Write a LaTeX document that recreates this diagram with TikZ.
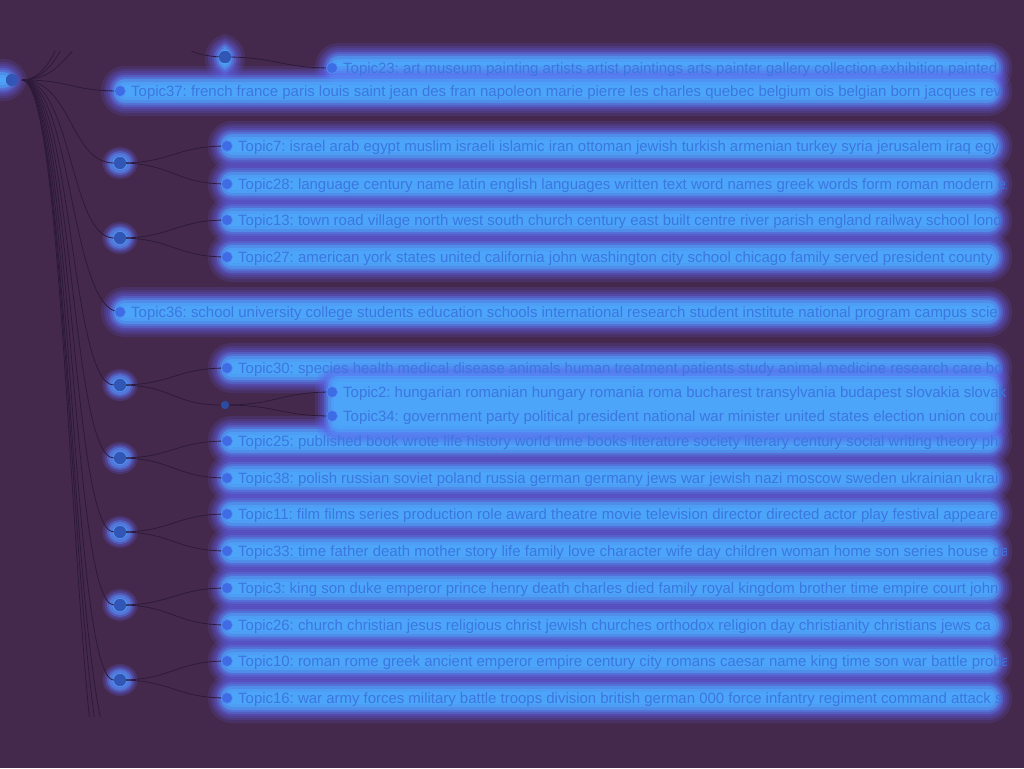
\documentclass[tikz,border=0pt]{standalone}
\usepackage{fontspec}
\setmainfont{Liberation Sans}
\definecolor{bg}{RGB}{69,41,77}
\definecolor{gA}{RGB}{96,96,232}
\definecolor{gB}{RGB}{84,142,248}
\definecolor{gC}{RGB}{76,170,252}
\definecolor{txt}{RGB}{60,118,224}
\definecolor{lnk}{RGB}{45,26,58}
\definecolor{dotc}{RGB}{62,108,228}
\newcommand\gbox[4]{\foreach \d/\c/\o [evaluate=\d as \rr using {max(2,11+\d)}] in {13/gA/0.16,10/gA/0.18,8/gA/0.2,6/gA/0.25,4/gB/0.3,2/gB/0.4,0/gC/0.5,-3/gC/0.6,-6/gC/0.6}{\fill[\c,opacity=\o,rounded corners=\rr pt] ({#1-\d},{#2-\d}) rectangle ({#3+\d},{#4+\d});}}
\newcommand\gdot[2]{\foreach \r/\c/\o in {16/gA/0.2,14/gA/0.3,12/gB/0.4,10/gB/0.5,7/gC/0.5}{\fill[\c,opacity=\o] (#1,#2) ellipse ({\r*1.1pt} and {\r pt});}}
\tikzset{
  lbl/.style={anchor=base west, inner sep=0pt, text=txt, font=\fontsize{14.95}{18}\selectfont},
  leaf/.style={circle, inner sep=0pt, minimum size=11pt, fill=dotc, draw=gB, line width=0.6pt},
  inode/.style={circle, inner sep=0pt, minimum size=12pt, fill=dotc!80!black},
  smallnode/.style={circle, inner sep=0pt, minimum size=8pt, fill=dotc!70!black},
  link/.style={draw=lnk, line width=0.8pt},
}
\begin{document}
\frenchspacing
\begin{tikzpicture}[x=1pt,y=-1pt]
\useasboundingbox (0,0) rectangle (1024,768);
\clip (0,0) rectangle (1024,768);
\fill[bg] (0,0) rectangle (1024,768);
% glows
\gbox{-20}{72}{14}{88}
\gbox{218}{47}{232}{70}
\gbox{328}{56}{999}{80}
\gbox{114}{79}{999}{103}
\foreach \y in {146,184,220,257,368,441,478,514,551,588,625,661,698}{\gbox{221}{\y-12}{999}{\y+12}}
\gbox{114}{300}{999}{324}
\gbox{328}{376}{999}{432}
\foreach \x/\y in {120/163,120/238,120/385,120/458,120/532,120/605,120/680}{\gdot{\x}{\y}}
% nodes
\node[inode] (root) at (12,80) {};
\node[inode] (ntop) at (225,57) {};
\node[inode] (n1) at (120,163) {};
\node[inode] (n2) at (120,238) {};
\node[inode] (n3) at (120,385) {};
\node[smallnode] (n3b) at (225,405) {};
\node[inode] (n4) at (120,458) {};
\node[inode] (n5) at (120,532) {};
\node[inode] (n6) at (120,605) {};
\node[inode] (n7) at (120,680) {};
\coordinate (pt) at (120,25);
\coordinate (u1) at (120,-20);
\coordinate (u2) at (120,-60);
\coordinate (d1) at (120,760);
\coordinate (d2) at (120,800);
\coordinate (d3) at (120,850);
\foreach \n/\x/\y in {t23/332/68,t37/120/91,t7/227/146,t28/227/184,t13/227/220,t27/227/257,t36/120/312,t30/227/368,t2/332/392,t34/332/416,t25/227/441,t38/227/478,t11/227/514,t33/227/551,t3/227/588,t26/227/625,t10/227/661,t16/227/698}{\coordinate (\n) at (\x,\y);}
% links
\begin{scope}
\clip (0,52) rectangle (1024,716);
\foreach \b in {t37,n1,n2,t36,n3,n4,n5,n6,n7,pt,u1,u2,d1,d2,d3}{
  \draw[link] ([xshift=10pt]root.center) .. controls +(50,0) and +(-50,0) .. (\b);}
\draw[link] (pt) .. controls +(52,0) and +(-52,0) .. (ntop.center);
\foreach \a/\b in {ntop/t23,n1/t7,n1/t28,n2/t13,n2/t27,n3/t30,n3/n3b,n3b/t2,n3b/t34,n4/t25,n4/t38,n5/t11,n5/t33,n6/t3,n6/t26,n7/t10,n7/t16}{
  \draw[link] (\a.center) .. controls +(52,0) and +(-52,0) .. (\b);}
\end{scope}
\node[inode] at (root) {};
\node[inode] at (ntop) {};
\foreach \n in {n1,n2,n3,n4,n5,n6,n7}{\node[inode] at (\n) {};}
\node[smallnode] at (n3b) {};
\foreach \n in {t23,t37,t7,t28,t13,t27,t36,t30,t2,t34,t25,t38,t11,t33,t3,t26,t10,t16}{\node[leaf] (\n d) at (\n) {};}
% labels
\begin{scope}
\clip (0,0) rectangle (1006,768);
\node[lbl] (l23) at ([xshift=11pt,yshift=-5.4pt]t23) {Topic23: art museum painting artists artist paintings arts painter gallery collection exhibition painted};
\node[lbl] (l37) at ([xshift=11pt,yshift=-5.4pt]t37) {Topic37: french france paris louis saint jean des fran napoleon marie pierre les charles quebec belgium ois belgian born jacques rev};
\node[lbl] (l7) at ([xshift=11pt,yshift=-5.4pt]t7) {Topic7: israel arab egypt muslim israeli islamic iran ottoman jewish turkish armenian turkey syria jerusalem iraq egy};
\node[lbl] (l28) at ([xshift=11pt,yshift=-5.4pt]t28) {Topic28: language century name latin english languages written text word names greek words form roman modern ex};
\node[lbl] (l13) at ([xshift=11pt,yshift=-5.4pt]t13) {Topic13: town road village north west south church century east built centre river parish england railway school lond};
\node[lbl] (l27) at ([xshift=11pt,yshift=-5.4pt]t27) {Topic27: american york states united california john washington city school chicago family served president county};
\node[lbl] (l36) at ([xshift=11pt,yshift=-5.4pt]t36) {Topic36: school university college students education schools international research student institute national program campus scie};
\node[lbl] (l30) at ([xshift=11pt,yshift=-5.4pt]t30) {Topic30: species health medical disease animals human treatment patients study animal medicine research care bo};
\node[lbl] (l2) at ([xshift=11pt,yshift=-5.4pt]t2) {Topic2: hungarian romanian hungary romania roma bucharest transylvania budapest slovakia slovak};
\node[lbl] (l34) at ([xshift=11pt,yshift=-5.4pt]t34) {Topic34: government party political president national war minister united states election union coun};
\node[lbl] (l25) at ([xshift=11pt,yshift=-5.4pt]t25) {Topic25: published book wrote life history world time books literature society literary century social writing theory ph};
\node[lbl] (l38) at ([xshift=11pt,yshift=-5.4pt]t38) {Topic38: polish russian soviet poland russia german germany jews war jewish nazi moscow sweden ukrainian ukrai};
\node[lbl] (l11) at ([xshift=11pt,yshift=-5.4pt]t11) {Topic11: film films series production role award theatre movie television director directed actor play festival appeare};
\node[lbl] (l33) at ([xshift=11pt,yshift=-5.4pt]t33) {Topic33: time father death mother story life family love character wife day children woman home son series house da};
\node[lbl] (l3) at ([xshift=11pt,yshift=-5.4pt]t3) {Topic3: king son duke emperor prince henry death charles died family royal kingdom brother time empire court john};
\node[lbl] (l26) at ([xshift=11pt,yshift=-5.4pt]t26) {Topic26: church christian jesus religious christ jewish churches orthodox religion day christianity christians jews ca};
\node[lbl] (l10) at ([xshift=11pt,yshift=-5.4pt]t10) {Topic10: roman rome greek ancient emperor empire century city romans caesar name king time son war battle proba};
\node[lbl] (l16) at ([xshift=11pt,yshift=-5.4pt]t16) {Topic16: war army forces military battle troops division british german 000 force infantry regiment command attack s};
\end{scope}
\end{tikzpicture}
\end{document}
